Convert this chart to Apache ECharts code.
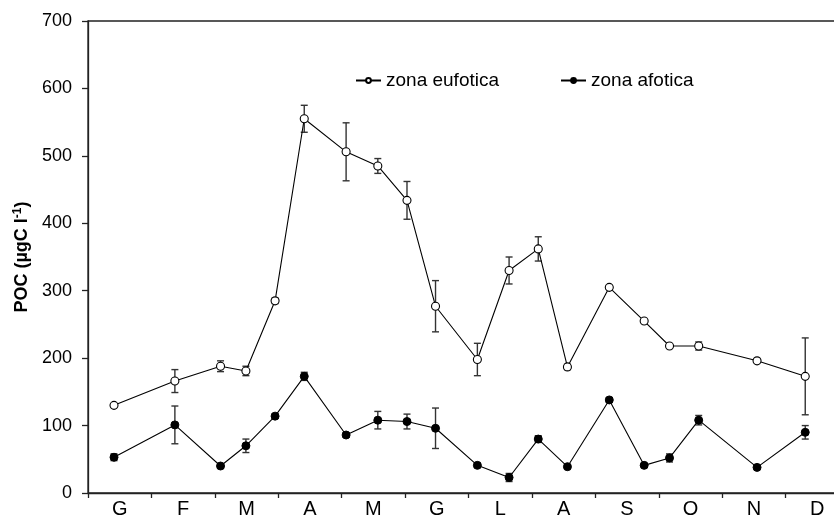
<!DOCTYPE html>
<html>
<head>
<meta charset="utf-8">
<script src="https://cdn.jsdelivr.net/npm/echarts@6/dist/echarts.min.js"></script>
<style>html,body{margin:0;padding:0;background:#fff}#c{width:834px;height:520px}</style>
</head>
<body>
<div id="c"></div>
<script>
// Month labels (tick categories)
var months = ['G','F','M','A','M','G','L','A','S','O','N','D'];
var yTicks = [0,100,200,300,400,500,600,700];
// Sampling times (in months from start of year)
var times = [0.41,1.37,2.09,2.49,2.95,3.41,4.07,4.57,5.03,5.48,6.14,6.64,7.10,7.56,8.22,8.77,9.17,9.63,10.55,11.31];
// zona eufotica
var eufVal = [130,166,188,181,285,555,506,485,434,277,198,330,362,187,305,255,218,218,196,173];
var eufErr = [2,17,8,7,4,20,43,11,28,38,24,20,18,4,3,2,2,6,2,57];
// zona afotica
var afoVal = [53,101,40,70,114,173,86,108,106,96,41,23,80,39,138,41,52,108,38,90];
var afoErr = [5,28,3,10,3,6,3,13,11,30,3,6,5,2,3,2,6,7,2,10];

function pts(v){ return times.map(function(t,i){ return [t, v[i]]; }); }
function errData(v,e){ return times.map(function(t,i){ return [t, v[i]-e[i], v[i]+e[i]]; }); }

function errRender(params, api){
  var x = api.value(0), lo = api.value(1), hi = api.value(2);
  var p1 = api.coord([x, hi]), p2 = api.coord([x, lo]);
  var hw = 3.5;
  var st = {stroke:'#333', lineWidth:1.4};
  return {type:'group', children:[
    {type:'line', shape:{x1:p1[0],y1:p1[1],x2:p2[0],y2:p2[1]}, style:st},
    {type:'line', shape:{x1:p1[0]-hw,y1:p1[1],x2:p1[0]+hw,y2:p1[1]}, style:st},
    {type:'line', shape:{x1:p2[0]-hw,y1:p2[1],x2:p2[0]+hw,y2:p2[1]}, style:st}
  ]};
}

var font = '"Liberation Sans", Arial, sans-serif';
var chart = echarts.init(document.getElementById('c'), null, {renderer:'canvas'});
chart.setOption({
  animation:false,
  backgroundColor:'#fff',
  textStyle:{fontFamily:font},
  grid:{left:88, top:21, width:761, height:472, outerBoundsMode:'none', containLabel:false,
        show:true, borderColor:'#222', borderWidth:1.3, backgroundColor:'transparent'},
  legend:{
    left:350, top:66, itemGap:61, itemWidth:25, itemHeight:6,
    textStyle:{fontFamily:font, fontSize:19, color:'#000'},
    data:['zona eufotica','zona afotica']
  },
  xAxis:[
    {type:'value', min:0, max:12, interval:1,
     axisLine:{show:true, lineStyle:{color:'#222', width:1.3}},
     axisTick:{show:true, inside:false, length:5, lineStyle:{color:'#222', width:1.3}},
     axisLabel:{show:false}, splitLine:{show:false}},
    {type:'value', min:0, max:12, interval:0.5, position:'bottom', gridIndex:0,
     axisLine:{show:false}, axisTick:{show:false}, splitLine:{show:false},
     axisLabel:{show:true, margin:6, fontSize:20, color:'#000', fontFamily:font,
       formatter:function(v){ var k=Math.floor(v); return (Math.abs(v-k-0.5)<1e-6 && months[k]) ? months[k] : ''; }}}
  ],
  yAxis:{type:'value', min:yTicks[0], max:yTicks[yTicks.length-1], interval:100,
    axisLine:{show:true, lineStyle:{color:'#222', width:1.3}},
    axisTick:{show:true, inside:false, length:6, lineStyle:{color:'#222', width:1.3}},
    splitLine:{show:false},
    axisLabel:{fontSize:18, color:'#000', margin:16, fontFamily:font},
    name:'{a|POC (µgC l}{s|-1}{a|)}', nameLocation:'middle', nameRotate:90, nameGap:48,
    nameTextStyle:{rich:{
      a:{fontSize:18, fontWeight:'bold', color:'#000', fontFamily:font},
      s:{fontSize:12, fontWeight:'bold', color:'#000', fontFamily:font, verticalAlign:'top', padding:[0,0,8,0]}
    }}
  },
  series:[
    {type:'custom', name:'errE', xAxisIndex:0, renderItem:errRender, data:errData(eufVal,eufErr), z:1, silent:true},
    {type:'custom', name:'errA', xAxisIndex:0, renderItem:errRender, data:errData(afoVal,afoErr), z:1, silent:true},
    {type:'line', name:'zona eufotica', xAxisIndex:0, data:pts(eufVal), symbol:'circle', symbolSize:8,
     lineStyle:{color:'#000', width:1.1}, itemStyle:{color:'#fff', borderColor:'#000', borderWidth:1.1}, z:3},
    {type:'line', name:'zona afotica', xAxisIndex:0, data:pts(afoVal), symbol:'circle', symbolSize:8,
     lineStyle:{color:'#000', width:1.1}, itemStyle:{color:'#000', borderColor:'#000', borderWidth:1}, z:3}
  ]
});
</script>
</body>
</html>
